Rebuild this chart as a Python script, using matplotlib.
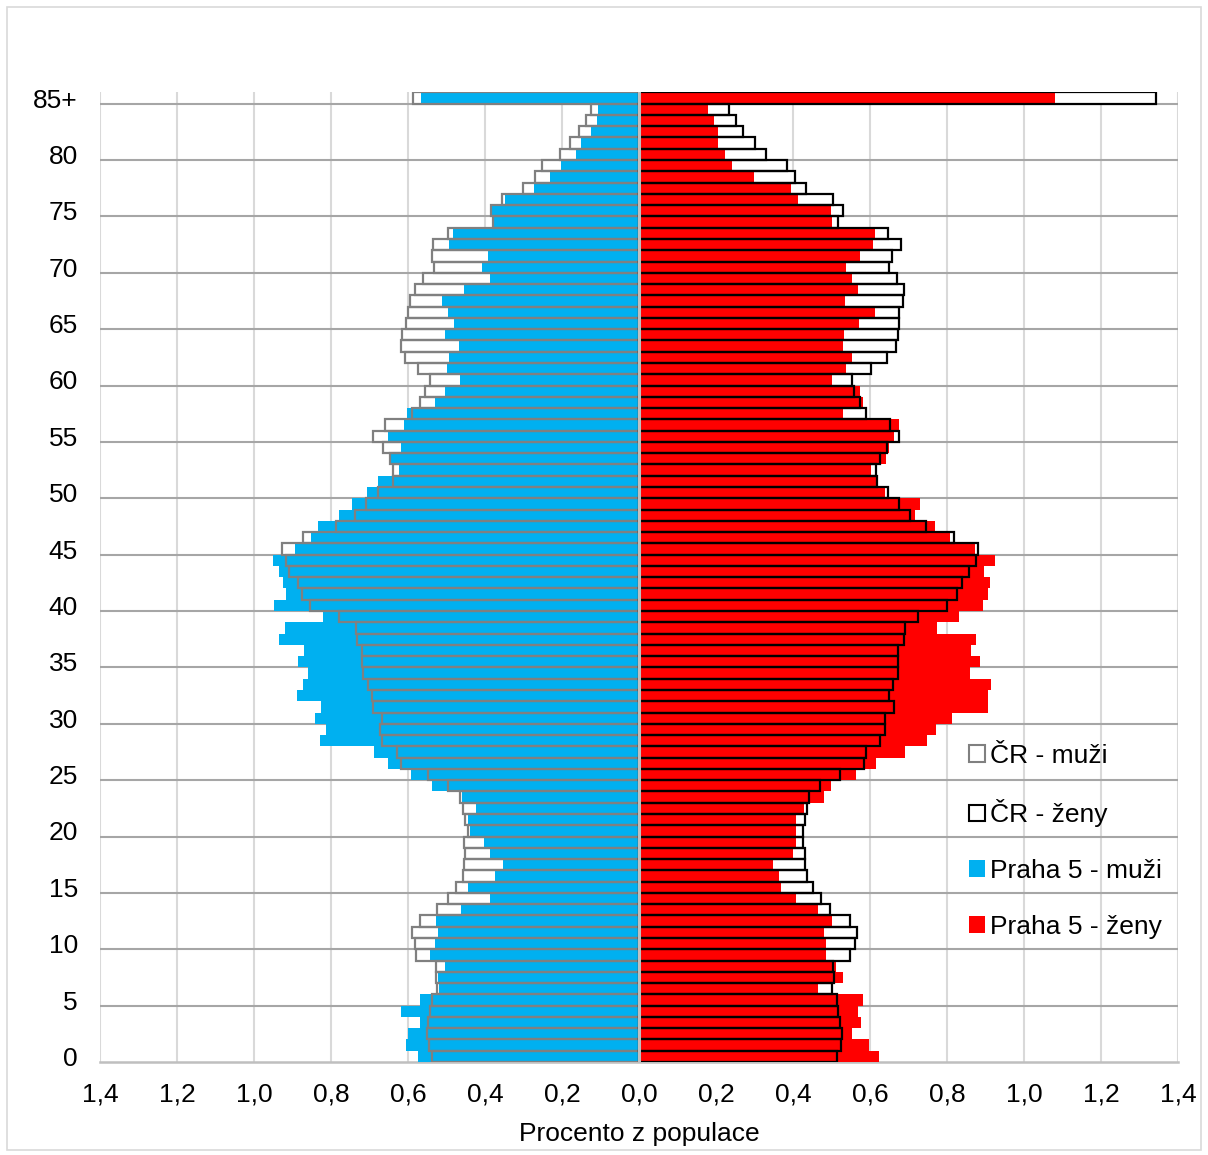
# vekova pyramida Praha 5 vs CR
import matplotlib.pyplot as plt
from matplotlib.patches import Patch, Rectangle
from matplotlib.ticker import FuncFormatter
import numpy as np

plt.rcParams['font.family'] = ['Liberation Sans', 'DejaVu Sans']

vek = list(range(86))
vek_popisky = [str(v) if v % 5 == 0 else '' for v in vek]
vek_popisky[85] = '85+'

# procento z populace, vek 0..84, 85+
cr_muzi = [0.538, 0.546, 0.552, 0.548, 0.542, 0.538, 0.524, 0.528, 0.528, 0.578,
           0.582, 0.590, 0.568, 0.525, 0.496, 0.476, 0.458, 0.454, 0.451, 0.455,
           0.445, 0.453, 0.458, 0.464, 0.496, 0.548, 0.618, 0.628, 0.667, 0.673,
           0.667, 0.692, 0.693, 0.704, 0.718, 0.719, 0.720, 0.732, 0.736, 0.780,
           0.854, 0.875, 0.886, 0.908, 0.918, 0.927, 0.872, 0.786, 0.737, 0.708,
           0.679, 0.640, 0.640, 0.646, 0.665, 0.691, 0.659, 0.590, 0.568, 0.555,
           0.542, 0.574, 0.607, 0.618, 0.615, 0.606, 0.600, 0.596, 0.583, 0.562,
           0.533, 0.537, 0.536, 0.495, 0.380, 0.385, 0.356, 0.301, 0.270, 0.251,
           0.204, 0.180, 0.155, 0.138, 0.125, 0.587]
cr_zeny = [0.513, 0.524, 0.527, 0.521, 0.516, 0.514, 0.501, 0.507, 0.504, 0.549,
           0.562, 0.565, 0.547, 0.497, 0.473, 0.451, 0.436, 0.432, 0.431, 0.427,
           0.425, 0.432, 0.437, 0.442, 0.469, 0.521, 0.585, 0.590, 0.627, 0.640,
           0.638, 0.661, 0.649, 0.659, 0.672, 0.672, 0.673, 0.689, 0.691, 0.725,
           0.801, 0.827, 0.839, 0.856, 0.876, 0.880, 0.819, 0.746, 0.704, 0.675,
           0.646, 0.618, 0.616, 0.625, 0.645, 0.675, 0.653, 0.589, 0.575, 0.558,
           0.554, 0.602, 0.644, 0.668, 0.672, 0.674, 0.674, 0.685, 0.689, 0.671,
           0.649, 0.658, 0.680, 0.647, 0.517, 0.529, 0.503, 0.433, 0.404, 0.384,
           0.330, 0.300, 0.271, 0.252, 0.233, 1.342]
praha_muzi = [0.575, 0.605, 0.599, 0.569, 0.619, 0.569, 0.520, 0.522, 0.504, 0.543,
              0.530, 0.523, 0.528, 0.462, 0.387, 0.444, 0.374, 0.353, 0.386, 0.402,
              0.438, 0.445, 0.424, 0.461, 0.539, 0.593, 0.652, 0.688, 0.829, 0.814,
              0.842, 0.827, 0.888, 0.872, 0.860, 0.886, 0.871, 0.934, 0.919, 0.821,
              0.949, 0.916, 0.925, 0.936, 0.952, 0.893, 0.853, 0.833, 0.780, 0.745,
              0.706, 0.677, 0.624, 0.649, 0.619, 0.652, 0.611, 0.602, 0.530, 0.505,
              0.465, 0.500, 0.494, 0.468, 0.503, 0.481, 0.496, 0.511, 0.454, 0.387,
              0.409, 0.393, 0.493, 0.484, 0.376, 0.381, 0.348, 0.273, 0.231, 0.203,
              0.165, 0.151, 0.125, 0.108, 0.107, 0.567]
praha_zeny = [0.622, 0.598, 0.552, 0.577, 0.568, 0.583, 0.465, 0.531, 0.512, 0.485,
              0.486, 0.481, 0.501, 0.464, 0.407, 0.368, 0.364, 0.347, 0.399, 0.409,
              0.407, 0.407, 0.429, 0.481, 0.499, 0.563, 0.615, 0.690, 0.749, 0.771,
              0.813, 0.906, 0.907, 0.915, 0.859, 0.885, 0.861, 0.875, 0.774, 0.832,
              0.893, 0.906, 0.912, 0.897, 0.925, 0.873, 0.807, 0.768, 0.717, 0.729,
              0.639, 0.618, 0.602, 0.642, 0.648, 0.662, 0.674, 0.529, 0.581, 0.573,
              0.500, 0.537, 0.554, 0.529, 0.532, 0.572, 0.614, 0.536, 0.570, 0.552,
              0.538, 0.573, 0.607, 0.612, 0.501, 0.499, 0.414, 0.396, 0.298, 0.242,
              0.224, 0.206, 0.204, 0.196, 0.180, 1.081]

modra = '#00B0F0'
cervena = '#FF0000'
seda = '#808080'
fs = 19

fig = plt.figure(figsize=(12.08, 11.55), dpi=100)
ax = fig.add_axes([0.0828, 0.0805, 0.8924, 0.8395])

y = np.array(vek)
# CR bile pozadi (schova mrizku), pak Praha, pak obrys CR
ax.barh(y, -np.array(cr_muzi), height=1.0, color='white', edgecolor='none', zorder=2)
ax.barh(y, cr_zeny, height=1.0, color='white', edgecolor='none', zorder=2)
ax.barh(y, -np.array(praha_muzi), height=1.0, color=modra, edgecolor='none', zorder=3)
ax.barh(y, praha_zeny, height=1.0, color=cervena, edgecolor='none', zorder=3)
ax.barh(y, -np.array(cr_muzi), height=1.0, fill=False, edgecolor=seda, linewidth=1.6, zorder=4)
ax.barh(y, cr_zeny, height=1.0, fill=False, edgecolor='black', linewidth=1.6, zorder=4)

ax.axvline(0, color='#BFBFBF', linewidth=2.2, zorder=5)

ax.set_xlim(-1.4, 1.4)
ax.set_ylim(-0.5, 85.5)
ax.set_xticks(np.arange(-1.4, 1.41, 0.2))
ax.xaxis.set_major_formatter(FuncFormatter(lambda v, p: ('%.1f' % abs(v)).replace('.', ',')))
ax.set_yticks(vek)
ax.set_yticklabels(vek_popisky)
ax.tick_params(length=0, labelsize=fs, colors='black')
ax.tick_params(axis='x', pad=15)
ax.tick_params(axis='y', pad=16)

ax.grid(axis='x', color='#D9D9D9', linewidth=1.5, zorder=0)
for g in np.arange(4.5, 85, 5):
    ax.axhline(g, color='#A6A6A6', linewidth=1.5, zorder=1)
ax.set_axisbelow(True)

for s in ['top', 'left', 'right']:
    ax.spines[s].set_visible(False)
ax.spines['bottom'].set_color('#BFBFBF')
ax.spines['bottom'].set_linewidth(1.8)

ax.set_xlabel('Procento z populace', fontsize=fs, labelpad=11)

handles = [Patch(facecolor='white', edgecolor=seda, linewidth=1.5),
           Patch(facecolor='white', edgecolor='black', linewidth=1.5),
           Patch(facecolor=modra, edgecolor='none'),
           Patch(facecolor=cervena, edgecolor='none')]
labels = ['ČR - muži', 'ČR - ženy', 'Praha 5 - muži', 'Praha 5 - ženy']
ax.legend(handles, labels, loc='upper left', bbox_to_anchor=(945 / 1208, 1 - 720 / 1155),
          bbox_transform=fig.transFigure, frameon=False, fontsize=fs,
          handlelength=0.6, handleheight=0.6, handletextpad=0.2, labelspacing=1.2)

fig.patches.append(Rectangle((0.006, 0.004), 0.988, 0.99, transform=fig.transFigure,
                             fill=False, edgecolor='#D9D9D9', linewidth=1.2))

fig.savefig('out.png', dpi=100)
